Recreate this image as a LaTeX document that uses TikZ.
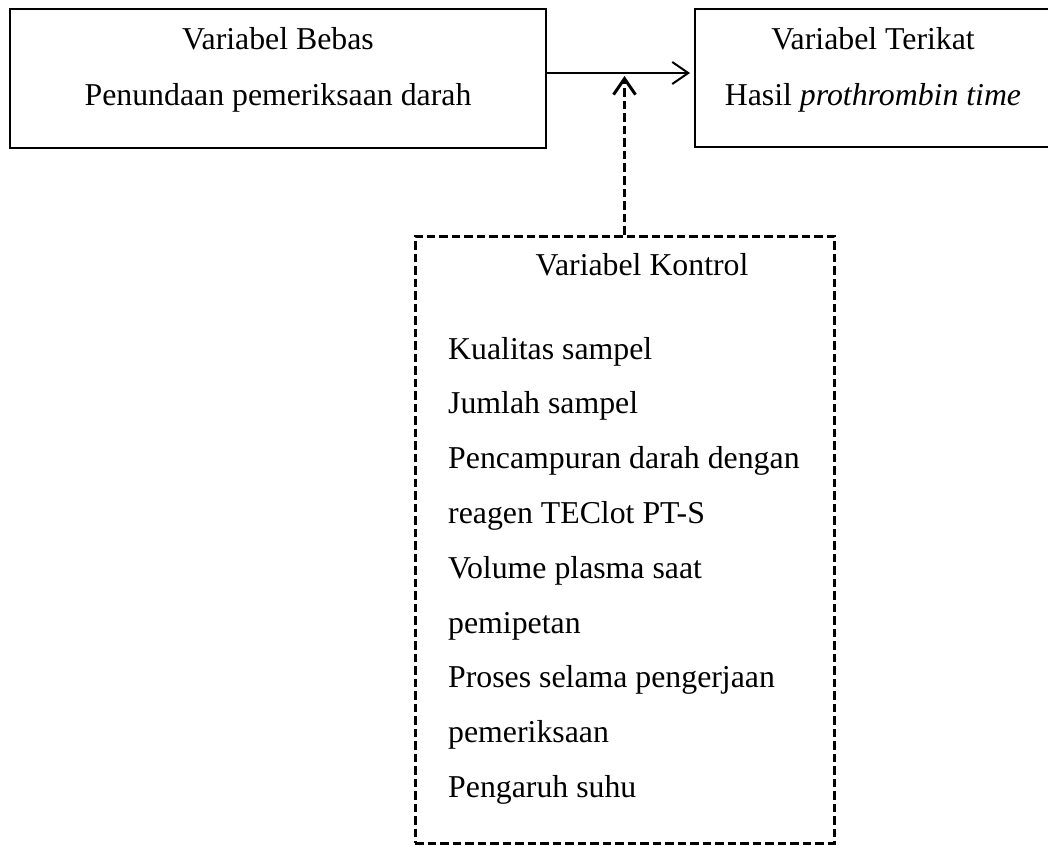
\documentclass[tikz,border=0pt]{standalone}
\usepackage{fontspec}
\setmainfont{Liberation Serif}
\usetikzlibrary{arrows.meta}
\tikzstyle{block} = [draw, line width=2pt, rectangle, inner sep=0pt]
\tikzstyle{ctrl} = [draw, line width=3pt, dash pattern=on 8.5pt off 4pt,
    rectangle, inner sep=0pt]
\tikzstyle{txt} = [inner sep=0pt, font=\fontsize{31.8}{54.8}\selectfont]
\tikzstyle{barb} = [-{Straight Barb[length=16pt,width=22pt]}, line width=2pt]

\begin{document}
\begin{tikzpicture}[x=1pt, y=-1pt]
	\useasboundingbox (0,0) rectangle (1048,845);

	% Variabel bebas
	\node [block, minimum width=536, minimum height=139] (bebas) at (278,78.5) {};
	\node [txt, anchor=base] (bebasjudul) at (278,50) {Variabel Bebas};
	\node [txt, anchor=base] (bebasisi) at (278,106) {Penundaan pemeriksaan darah};

	% Variabel terikat
	\node [block, minimum width=355, minimum height=138] (terikat) at (872.5,78) {};
	\node [txt, anchor=base] (terikatjudul) at (873,50) {Variabel Terikat};
	\node [txt, anchor=base] (terikatisi) at (873,106) {Hasil \textit{prothrombin time}};

	% Variabel kontrol
	\node [ctrl, minimum width=419, minimum height=607] (kontrol) at (624.5,539.5) {};
	\node [txt, anchor=base] (kontroljudul) at (642,275) {Variabel Kontrol};
	\foreach \isi [count=\i] in {Kualitas sampel, Jumlah sampel,
			Pencampuran darah dengan, reagen TEClot PT-S, Volume plasma saat,
			pemipetan, Proses selama pengerjaan, pemeriksaan, Pengaruh suhu}
		\node [txt, anchor=base west] (item\i) at (448,{359+(\i-1)*54.8}) {\isi};

	% Connectors
	\coordinate (temu) at (kontrol.north |- 0,73);
	\draw [barb, shorten >=4pt] (bebas.east |- temu) -- (terikat.west |- temu);
	\draw [barb, line width=3pt, dash pattern=on 8.5pt off 4pt,
		shorten >=3pt] (kontrol.north) -- (temu);
\end{tikzpicture}
\end{document}
